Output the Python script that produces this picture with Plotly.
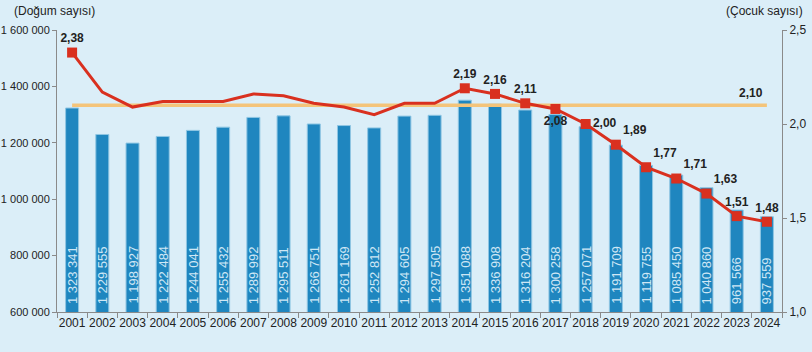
import plotly.graph_objects as go

years = [str(y) for y in range(2001, 2025)]
births = [1323341, 1229555, 1198927, 1222484, 1244041, 1255432, 1289992, 1295511,
          1266751, 1261169, 1252812, 1294605, 1297505, 1351088, 1336908, 1316204,
          1300258, 1257071, 1191709, 1119755, 1085450, 1040860, 961566, 937559]
tfr = [2.38, 2.17, 2.09, 2.12, 2.12, 2.12, 2.16, 2.15, 2.11, 2.09, 2.05, 2.11, 2.11,
       2.19, 2.16, 2.11, 2.08, 2.00, 1.89, 1.77, 1.71, 1.63, 1.51, 1.48]
labelled_years = ["2001", "2014", "2015", "2016", "2017", "2018", "2019", "2020",
                  "2021", "2022", "2023", "2024"]
label_pos = {"2017": "bottom center", "2018": "middle right", "2019": "top right",
             "2020": "top right", "2021": "top right", "2022": "top right"}
replacement = 2.10
y_min = 600000

BG = "#dbeef8"
FONT = "Liberation Sans, Arial, sans-serif"

def fmt_thousands(v):
    return f"{v:,d}".replace(",", " ")

fig = go.Figure()
fig.add_trace(go.Bar(
    x=years, y=births, marker=dict(color="#1f86bf", line=dict(color="#8fc6e3", width=1)),
    width=0.43,
))
for i, v in enumerate(births):
    fig.add_annotation(x=i, y=0, xref="x", yref="paper", text=fmt_thousands(v),
                       textangle=-90, showarrow=False, xanchor="center", yanchor="bottom",
                       yshift=6, font=dict(color="#cfe7f5", size=13, family=FONT))
fig.add_trace(go.Scatter(
    x=[years[0], years[-1]], y=[replacement, replacement], yaxis="y2", mode="lines",
    line=dict(color="#f4c47a", width=3.5), hoverinfo="skip",
))
fig.add_trace(go.Scatter(
    x=years, y=tfr, yaxis="y2", mode="lines", line=dict(color="#d9301f", width=3),
))
lx = [y for y in years if y in labelled_years]
ly = [tfr[years.index(y)] for y in lx]
fig.add_trace(go.Scatter(
    x=lx, y=ly, yaxis="y2", mode="markers+text",
    marker=dict(symbol="square", size=10, color="#d9301f"),
    text=ly, texttemplate="<b>%{y:.2f}</b>",
    textposition=[label_pos.get(y, "top center") for y in lx],
    textfont=dict(color="#222222", size=12, family=FONT), cliponaxis=False,
))
fig.add_annotation(x=len(years) - 1, y=replacement, xref="x", yref="y2", text="<b>2,10</b>",
                   showarrow=False, xanchor="right", yanchor="bottom", xshift=-2, yshift=3,
                   font=dict(color="#222222", size=12, family=FONT))
fig.add_annotation(x=0, y=1, xref="paper", yref="paper", xshift=-45, yshift=28,
                   text="(Doğum sayısı)", showarrow=False, xanchor="left", yanchor="top",
                   font=dict(color="#222222", size=12, family=FONT))
fig.add_annotation(x=1, y=1, xref="paper", yref="paper", xshift=23, yshift=28,
                   text="(Çocuk sayısı)", showarrow=False, xanchor="right", yanchor="top",
                   font=dict(color="#222222", size=12, family=FONT))

fig.update_layout(
    width=812, height=352, margin=dict(l=57, r=30, t=30, b=40),
    paper_bgcolor=BG, plot_bgcolor=BG, showlegend=False, separators=", ",
    font=dict(family=FONT, size=12, color="#222222"),
    xaxis=dict(type="category", range=[-0.5, 23.5], showline=True, linecolor="#8a8a8a",
               ticks="outside", tickson="boundaries", ticklen=5, tickcolor="#8a8a8a",
               showgrid=False, tickangle=0, tickfont=dict(size=12), automargin=False),
    yaxis=dict(range=[y_min, 1600000], dtick=200000, tickformat=",d", showline=True,
               linecolor="#8a8a8a", ticks="outside", ticklen=4, tickcolor="#8a8a8a",
               showgrid=False, zeroline=False, tickfont=dict(size=11), automargin=False),
    yaxis2=dict(range=[1.0, 2.5], dtick=0.5, tickformat=".1f", overlaying="y", side="right",
                showline=True, linecolor="#8a8a8a", ticks="outside", ticklen=4,
                tickcolor="#8a8a8a", showgrid=False, zeroline=False, tickfont=dict(size=12),
                automargin=False),
)
fig.write_html("out.html")
